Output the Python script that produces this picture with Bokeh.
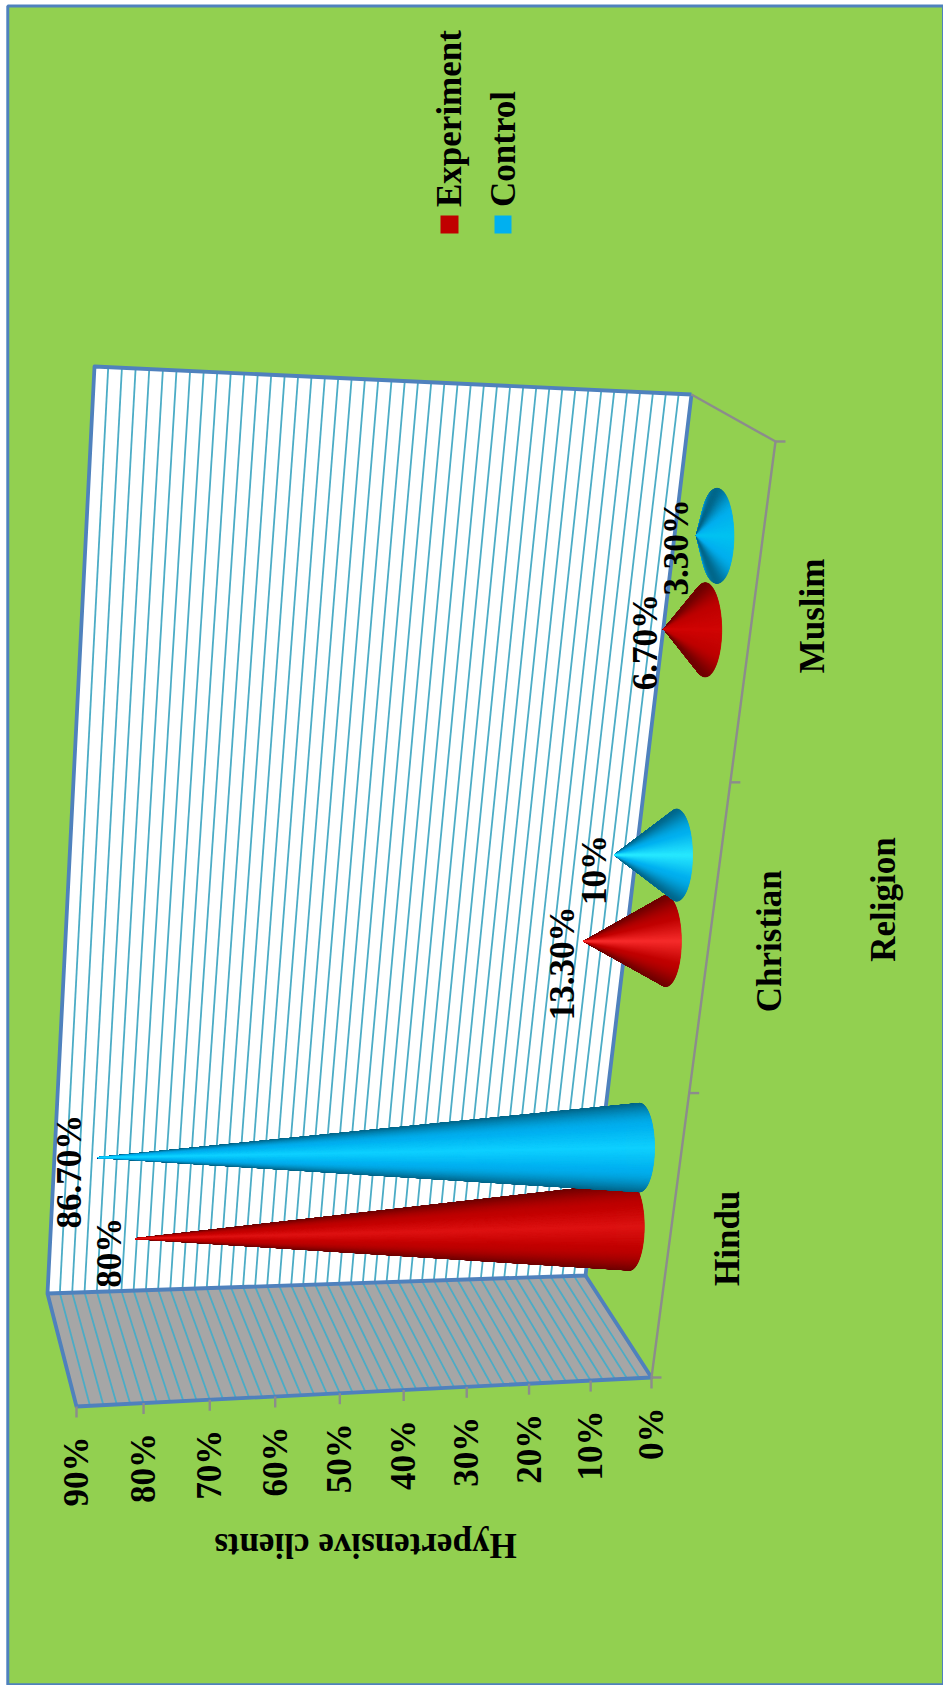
import numpy as np
from bokeh.core.properties import value
from bokeh.embed import file_html
from bokeh.models import ColumnDataSource, Range1d
from bokeh.plotting import figure
from bokeh.resources import INLINE

# Chart data
categories = ["Hindu", "Christian", "Muslim"]
experiment = [80.0, 13.3, 6.7]
control = [86.7, 10.0, 3.3]
experiment_labels = ["80%", "13.30%", "6.70%"]
control_labels = ["86.70%", "10%", "3.30%"]
value_ticks = [0, 10, 20, 30, 40, 50, 60, 70, 80, 90]
value_tick_labels = ["0%", "10%", "20%", "30%", "40%", "50%", "60%", "70%", "80%", "90%"]
legend_names = ["Experiment", "Control"]
value_title = "Hypertensive clients"
category_title = "Religion"

# Palette
GREEN = "#92D050"
FRAME = "#4F81BD"
GRID = "#4BACC6"
WALL_GREY = "#A6A6A6"
AXIS = "#8C8C8C"
RED = "#C00000"
BLUE = "#00B0F0"
FONT = value("Liberation Serif")
SIZE = "35px"
VALUE_MAX = 90.0

# Projected box of the 3D scene, on the page's pixel grid
FLOOR_BACK_NEAR = np.array([585.0, 1275.0])
FLOOR_BACK_FAR = np.array([691.0, 394.0])
FLOOR_FRONT_FAR = np.array([775.0, 441.0])
FLOOR_FRONT_NEAR = np.array([651.0, 1377.0])
TOP_BACK_NEAR = np.array([47.0, 1293.0])
TOP_BACK_FAR = np.array([94.0, 366.0])
TOP_FRONT_NEAR = np.array([76.0, 1406.0])


def unit_square_map(p00, p10, p11, p01):
    """Projective map from the unit square onto a quadrilateral."""
    d1 = p10 - p11
    d2 = p01 - p11
    s = p00 - p10 + p11 - p01
    den = d1[0] * d2[1] - d2[0] * d1[1]
    g = (s[0] * d2[1] - d2[0] * s[1]) / den
    h = (d1[0] * s[1] - s[0] * d1[1]) / den
    a, b = p10 - p00 + g * p10, p01 - p00 + h * p01

    def apply(u, v):
        w = g * u + h * v + 1.0
        return (a * u + b * v + p00) / w

    return apply


floor_unit = unit_square_map(FLOOR_BACK_NEAR, FLOOR_BACK_FAR, FLOOR_FRONT_FAR, FLOOR_FRONT_NEAR)


def floor(u, v):
    """Floor position for category coordinate u (0..3) and depth v (0..1)."""
    return floor_unit(u / 3.0, v)


def foreshorten(t, r):
    return t / (t + r * (1.0 - t))


def along(a, b, val, r):
    return a + (b - a) * foreshorten(val / VALUE_MAX, r)


def cone_strips(u, val, colors, scale, glow):
    """Longitudinal strips of a shaded cone standing on the floor."""
    base = floor(u, 0.5)
    sx, sy = 14.0 + 1.1 * u, 43.0 + 1.7 * u
    tip = base + val * np.array([-scale, 0.2 - 0.13 * u])
    bright, mid, dark = (np.array(c, dtype=float) for c in colors)
    bright = np.clip(bright + glow, 0, 255)
    thetas = np.linspace(-np.pi, np.pi, 361)
    strips = []
    for a, b in zip(thetas[:-1], thetas[1:]):
        s = abs(np.sin((a + b) / 2.0))
        if s < 0.5:
            col = bright + (mid - bright) * s / 0.5
        else:
            col = mid + (dark - mid) * ((s - 0.5) / 0.5) ** 1.6
        order = abs((a + b) / 2.0)
        xs = [tip[0], base[0] + sx * np.cos(a), base[0] + sx * np.cos(b)]
        ys = [tip[1], base[1] + sy * np.sin(a), base[1] + sy * np.sin(b)]
        strips.append((order, xs, ys, "#%02x%02x%02x" % tuple(int(round(c)) for c in col)))
    strips.sort(key=lambda item: -item[0])
    return strips, tip


p = figure(
    width=943,
    height=1685,
    output_backend="svg",
    toolbar_location=None,
    x_range=Range1d(0, 943),
    y_range=Range1d(1685, 0),
    x_axis_type=None,
    y_axis_type=None,
    min_border=0,
    outline_line_color=None,
    background_fill_color="#FFFFFF",
    border_fill_color="#FFFFFF",
)
p.grid.visible = False

# Chart area
p.quad(left=[7.3], right=[943], top=[5.5], bottom=[1684.3], fill_color=GREEN,
       line_color=FRAME, line_width=3)

# Back wall and side wall
p.patch(*zip(TOP_BACK_FAR, FLOOR_BACK_FAR, FLOOR_BACK_NEAR, TOP_BACK_NEAR), fill_color="#FFFFFF", line_color=None)
p.patch(*zip(TOP_BACK_NEAR, FLOOR_BACK_NEAR, FLOOR_FRONT_NEAR, TOP_FRONT_NEAR), fill_color=WALL_GREY, line_color=None)

# Gridlines every 2 percent, carried across both walls
grid_values = np.arange(2.0, VALUE_MAX, 2.0)
wx, wy, sxs, sys_ = [], [], [], []
for g in grid_values:
    far = along(FLOOR_BACK_FAR, TOP_BACK_FAR, g, 1.035)
    near = along(FLOOR_BACK_NEAR, TOP_BACK_NEAR, g, 1.035)
    front = along(FLOOR_FRONT_NEAR, TOP_FRONT_NEAR, g, 1.056)
    wx.append([far[0], near[0]])
    wy.append([far[1], near[1]])
    sxs.append([near[0], front[0]])
    sys_.append([near[1], front[1]])
p.multi_line(wx + sxs, wy + sys_, line_color=GRID, line_width=1.8)

# Blue wall outlines
p.line(*zip(FLOOR_BACK_FAR, TOP_BACK_FAR, TOP_BACK_NEAR, FLOOR_BACK_NEAR, FLOOR_BACK_FAR), line_color=FRAME,
       line_width=3.8, line_join="round")
p.line(*zip(TOP_BACK_NEAR, TOP_FRONT_NEAR, FLOOR_FRONT_NEAR, FLOOR_BACK_NEAR), line_color=FRAME,
       line_width=3.8, line_join="round")

# Category axis with its ticks
p.line(*zip(FLOOR_BACK_FAR, FLOOR_FRONT_FAR, FLOOR_FRONT_NEAR), line_color=AXIS, line_width=2.4)
cat_ticks = [floor(float(i), 1.0) for i in range(len(categories) + 1)]
p.segment([t[0] for t in cat_ticks], [t[1] for t in cat_ticks], [t[0] + 10 for t in cat_ticks],
          [t[1] for t in cat_ticks], line_color=AXIS, line_width=2.4)

# Value axis ticks and labels
vt = [along(FLOOR_FRONT_NEAR, TOP_FRONT_NEAR, v, 1.056) for v in value_ticks]
p.segment([t[0] for t in vt], [t[1] for t in vt], [t[0] for t in vt], [t[1] + 11 for t in vt],
          line_color=AXIS, line_width=2.4)
p.text([t[0] for t in vt], [t[1] + 30 for t in vt], text=value_tick_labels, angle=np.pi / 2,
       text_font=FONT, text_font_style="bold", text_font_size=SIZE, text_color="#000000",
       text_align="right", text_baseline="middle")

# Cones, one cluster per category; highlight strength differs a little by position
SHADES_RED = [(222, 18, 18), (192, 0, 0), (112, 0, 0)]
SHADES_BLUE = [(14, 208, 255), (0, 176, 240), (0, 104, 140)]
GLOW = [0, 24, -14]
LABEL_NUDGE = [(-26, 14), (-21, 22), (-18, 13)], [(-28, 14), (-20, 15), (-20, 12)]
label_x, label_y, label_text = [], [], []
for i in range(len(categories)):
    for series, (vals, labels, shades, offset, scale) in enumerate((
        (experiment, experiment_labels, SHADES_RED, 0.365, 6.18),
        (control, control_labels, SHADES_BLUE, 0.65, 6.25),
    )):
        strips, tip = cone_strips(i + offset, vals[i], shades, scale, GLOW[i])
        src = ColumnDataSource(dict(
            xs=[s[1] for s in strips], ys=[s[2] for s in strips], c=[s[3] for s in strips]))
        p.patches("xs", "ys", source=src, fill_color="c", line_color="c", line_width=0.8)
        nudge = LABEL_NUDGE[series][i]
        label_x.append(tip[0] + nudge[0])
        label_y.append(tip[1] + nudge[1])
        label_text.append(labels[i])

p.text(label_x, label_y, text=label_text, angle=np.pi / 2, text_font=FONT, text_font_style="bold",
       text_font_size=SIZE, text_color="#000000", text_align="center", text_baseline="middle")

# Category names below the floor
cat_pos = [floor(i + 0.5, 1.0) for i in range(len(categories))]
name_gap = [58, 60, 60]
p.text([c[0] + g for c, g in zip(cat_pos, name_gap)], [c[1] for c in cat_pos], text=categories, angle=np.pi / 2,
       text_font=FONT, text_font_style="bold", text_font_size=SIZE, text_color="#000000",
       text_align="center", text_baseline="alphabetic")

# Axis titles
p.text([883], [899], text=[category_title], angle=np.pi / 2, text_font=FONT, text_font_style="bold",
       text_font_size=SIZE, text_color="#000000", text_align="center", text_baseline="alphabetic")
p.text([365], [1545], text=[value_title], angle=np.pi, text_font=FONT, text_font_style="bold",
       text_font_size=SIZE, text_color="#000000", text_align="center", text_baseline="alphabetic")

# Legend
p.quad(left=[440, 494], right=[458, 511], top=[215, 215], bottom=[233, 233], fill_color=[RED, BLUE], line_color=None)
p.text([448.5, 503], [206.5, 206.5], text=legend_names, angle=np.pi / 2, text_font=FONT, text_font_style="bold",
       text_font_size=SIZE, text_color="#000000", text_align="left", text_baseline="alphabetic")

open("out.html", "w").write(file_html(p, INLINE))
